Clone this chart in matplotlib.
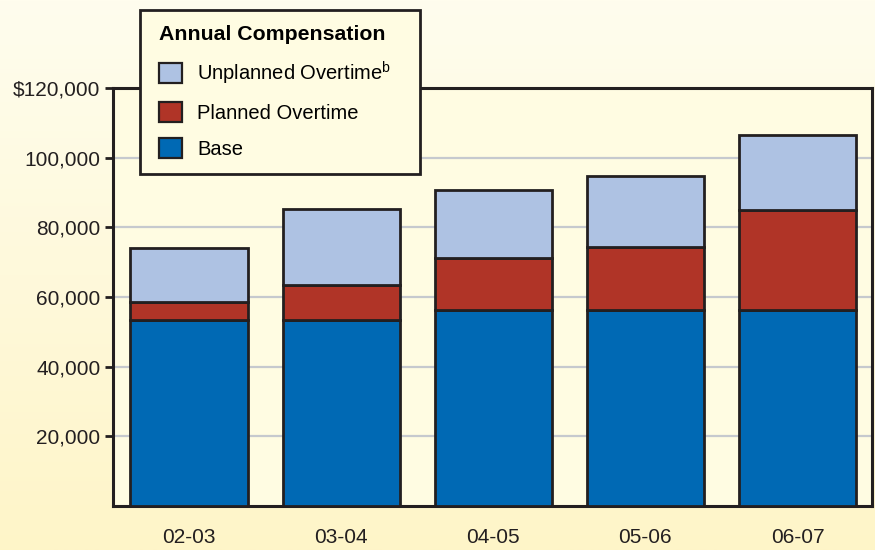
import numpy as np
import matplotlib
matplotlib.use("Agg")
import matplotlib.pyplot as plt
from matplotlib.patches import Patch, Rectangle

plt.rcParams["font.family"] = ["Liberation Sans", "DejaVu Sans"]
plt.rcParams["mathtext.fontset"] = "custom"
plt.rcParams["mathtext.rm"] = "Liberation Sans"
plt.rcParams["mathtext.it"] = "Liberation Sans"

# data
years = ["02-03", "03-04", "04-05", "05-06", "06-07"]
base = [53400, 53400, 56300, 56300, 56300]
planned = [5300, 10000, 14900, 18100, 28700]
unplanned = [15300, 21800, 19500, 20400, 21500]

yticks = [20000, 40000, 60000, 80000, 100000, 120000]
ytick_labels = ["20,000", "40,000", "60,000", "80,000", "100,000", "$120,000"]

c_base = "#0069B4"
c_planned = "#B03427"
c_unplanned = "#AEC2E3"
edge = "#231F20"

W, H = 875, 550
fig = plt.figure(figsize=(8.75, 5.5), dpi=100)

# background gradient
bg = fig.add_axes([0, 0, 1, 1], zorder=-10)
grad = np.linspace(0, 1, 256).reshape(-1, 1)
cmap = matplotlib.colors.LinearSegmentedColormap.from_list("bg", ["#FFFDEE", "#FEF5C8"])
bg.imshow(grad, aspect="auto", cmap=cmap, extent=[0, 1, 0, 1])
bg.axis("off")

ax = fig.add_axes([113 / W, 44 / H, 759 / W, 418 / H])
ax.set_facecolor("#FFFCE2")

x = np.arange(len(years))
w = 0.77
bottom2 = np.array(base) + np.array(planned)
ax.bar(x, base, w, color=c_base, edgecolor=edge, linewidth=2, zorder=3)
ax.bar(x, planned, w, bottom=base, color=c_planned, edgecolor=edge, linewidth=2, zorder=3)
ax.bar(x, unplanned, w, bottom=bottom2, color=c_unplanned, edgecolor=edge, linewidth=2, zorder=3)

ax.set_xlim(-0.5, 4.49)
ax.set_ylim(0, 120000)
ax.set_yticks(yticks)
ax.set_yticklabels(ytick_labels, fontsize=15, color="#231F20")
ax.set_xticks(x)
ax.set_xticklabels(years, fontsize=15, color="#231F20")
ax.tick_params(axis="x", length=0, pad=16)
ax.tick_params(axis="y", length=6, width=2, color=edge, pad=3)
ax.yaxis.grid(True, color="#C6C9CE", linewidth=1.6, zorder=1)
ax.set_axisbelow(True)
for s in ax.spines.values():
    s.set_color(edge)
    s.set_linewidth(2.2)

# legend frame drawn by hand so the box matches
box = Rectangle((140 / W, 1 - 174 / H), 280 / W, 164 / H, transform=fig.transFigure,
                facecolor="#FFFCE2", edgecolor=edge, linewidth=2, zorder=19)
fig.add_artist(box)

handles = [
    Patch(facecolor=c_unplanned, edgecolor=edge, linewidth=1.6, label="Unplanned Overtime$^{\\mathrm{b}}$"),
    Patch(facecolor=c_planned, edgecolor=edge, linewidth=1.6, label="Planned Overtime"),
    Patch(facecolor=c_base, edgecolor=edge, linewidth=1.6, label="Base"),
]
leg = fig.legend(handles=handles, title="Annual Compensation", loc="upper left",
                 bbox_to_anchor=(159 / W, 1 - 25 / H), fontsize=14.5,
                 title_fontproperties={"weight": "bold", "size": 15.3},
                 frameon=False, handlelength=1.16, handleheight=1.16,
                 labelspacing=0.76, borderpad=0, borderaxespad=0, handletextpad=0.75,
                 alignment="left")
leg.set_zorder(20)

fig.savefig("out.png", dpi=100)
